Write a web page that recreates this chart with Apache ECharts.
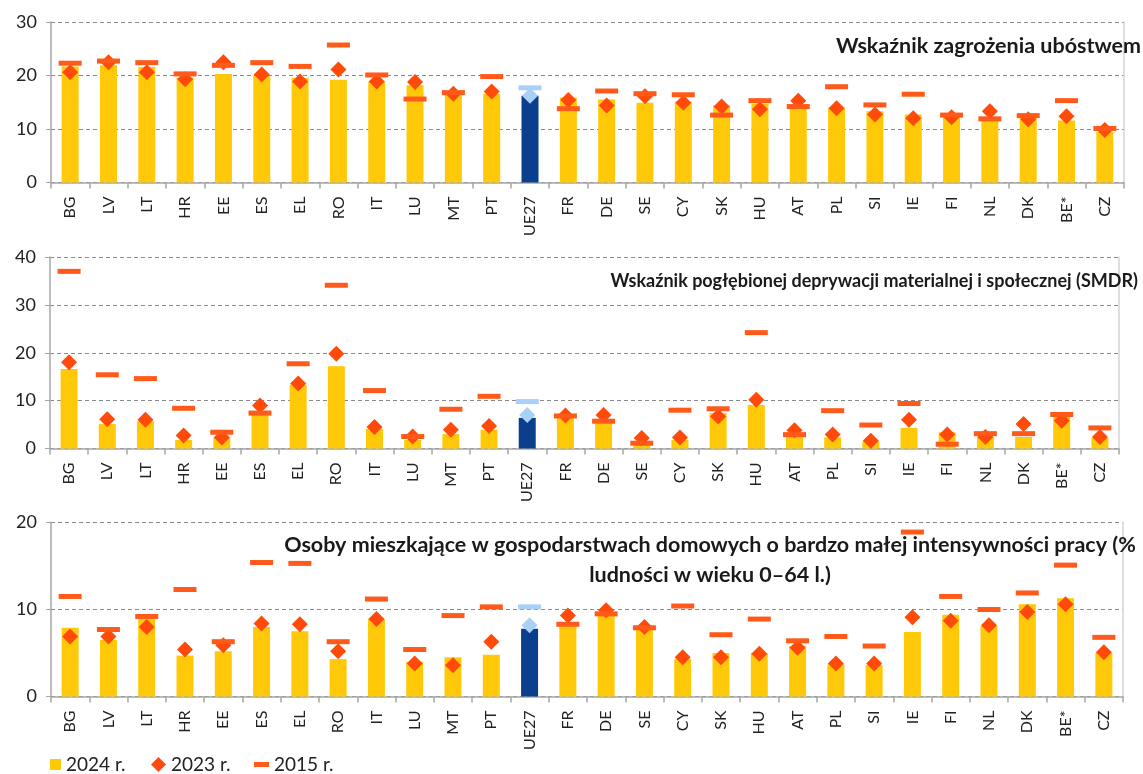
<!DOCTYPE html>
<html>
<head>
<meta charset="utf-8">
<script src="https://cdn.jsdelivr.net/npm/echarts@6/dist/echarts.min.js"></script>
<style>
  html, body { margin: 0; padding: 0; background: #fff; }
  #chart { width: 1143px; height: 774px; }
</style>
</head>
<body>
<div id="chart"></div>
<script>
// Countries in display order
const countries = ['BG','LV','LT','HR','EE','ES','EL','RO','IT','LU','MT','PT','UE27','FR','DE','SE','CY','SK','HU','AT','PL','SI','IE','FI','NL','DK','BE*','CZ'];

// Panel 1 – at-risk-of-poverty rate (%)
const arop2024 = [21.7,21.9,21.6,19.6,20.3,19.9,19.6,19.2,18.9,18.2,16.5,16.6,16.2,15.9,15.5,14.9,15.1,14.4,14.7,14.3,14.0,13.3,12.7,12.2,11.7,12.2,11.6,9.5];
const arop2023 = [20.6,22.5,20.6,19.3,22.5,20.2,18.9,21.1,18.9,18.8,16.6,17.0,16.2,15.4,14.4,16.1,14.9,14.2,13.7,15.3,13.9,12.7,12.0,12.2,13.3,11.8,12.4,9.8];
const arop2015 = [22.3,22.7,22.4,20.3,21.9,22.4,21.7,25.7,20.1,15.6,16.8,19.8,17.7,13.8,17.1,16.6,16.4,12.6,15.3,14.2,17.9,14.5,16.5,12.6,11.9,12.5,15.3,10.1];

// Panel 2 – severe material and social deprivation rate (%)
const smsd2024 = [16.6,5.1,5.7,1.8,2.3,7.6,13.3,17.2,4.1,1.8,3.0,3.9,6.4,6.6,5.6,1.3,1.8,7.4,9.1,3.2,2.3,1.5,4.3,3.4,2.4,2.4,7.0,2.2];
const smsd2023 = [18.0,6.1,6.0,2.7,2.3,9.0,13.6,19.8,4.5,2.5,3.9,4.7,7.0,6.9,7.0,2.2,2.3,6.7,10.2,3.8,2.9,1.6,6.0,2.9,2.4,5.1,5.8,2.4];
const smsd2015 = [37.0,15.4,14.6,8.4,3.4,7.4,17.7,34.1,12.1,2.5,8.2,10.9,9.8,6.8,5.7,1.1,8.0,8.3,24.2,2.9,7.9,4.9,9.4,0.9,3.1,3.1,7.1,4.3];

// Panel 3 – people living in households with very low work intensity (%)
const lwi2024 = [7.9,6.5,8.9,4.7,5.2,8.0,7.5,4.3,8.9,4.0,4.5,4.8,7.8,8.1,9.5,7.7,4.3,5.0,5.0,5.8,3.7,3.6,7.4,9.4,8.1,10.6,11.3,5.0];
const lwi2023 = [6.9,6.9,8.0,5.4,5.9,8.4,8.3,5.2,8.9,3.8,3.6,6.3,8.2,9.3,9.9,8.0,4.5,4.5,4.9,5.6,3.8,3.8,9.1,8.7,8.2,9.7,10.6,5.1];
const lwi2015 = [11.5,7.7,9.2,12.3,6.3,15.4,15.3,6.3,11.2,5.4,9.3,10.3,10.3,8.3,9.5,7.9,10.4,7.1,8.9,6.4,6.9,5.8,18.9,11.5,10.0,11.9,15.1,6.8];

// Axis ranges per panel
const yMax = [30, 40, 20];

// Panel titles
const titles = [
  'Wskaźnik zagrożenia ubóstwem',
  'Wskaźnik pogłębionej deprywacji materialnej i społecznej (SMDR)',
  'Osoby mieszkające w gospodarstwach domowych o bardzo małej intensywności pracy (%\nludności w wieku 0–64 l.)'
];

const seriesNames = ['2024 r.', '2023 r.', '2015 r.'];

const FONT = 'Lato, "Liberation Sans", sans-serif';
const YELLOW = '#FFC909';
const NAVY = '#0B3F8E';
const RED = '#FF4A0A';
const ORANGE = '#FF5A1A';
const LIGHTBLUE = '#A9D0F7';
const EU = 'UE27';

const panels = [
  { v24: arop2024, v23: arop2023, v15: arop2015 },
  { v24: smsd2024, v23: smsd2023, v15: smsd2015 },
  { v24: lwi2024, v23: lwi2023, v15: lwi2015 }
];

const grids = [
  { left: 51, right: 19, top: 22, height: 160.5 },
  { left: 50, right: 24, top: 257, height: 191.5 },
  { left: 51, right: 20, top: 522.5, height: 174 }
];

function colored(values, base, euColor) {
  return values.map((v, i) => countries[i] === EU
    ? { value: v, itemStyle: { color: euColor } }
    : { value: v, itemStyle: { color: base } });
}

const xAxis = [], yAxis = [], series = [];
panels.forEach((p, k) => {
  xAxis.push({
    type: 'category', gridIndex: k, data: countries,
    axisLine: { lineStyle: { color: '#a6a6a6', width: 1.5 } },
    axisTick: { show: true, length: 6, lineStyle: { color: '#a6a6a6', width: 1.5 } },
    axisLabel: { rotate: 90, interval: 0, margin: 14, fontSize: 16, color: '#222', fontFamily: FONT }
  });
  yAxis.push({
    type: 'value', gridIndex: k, min: 0, max: yMax[k], interval: 10,
    axisLine: { show: true, lineStyle: { color: '#a6a6a6', width: 1.5 } },
    axisTick: { show: true, length: 5, lineStyle: { color: '#a6a6a6' } },
    axisLabel: { margin: 14, fontSize: 18, color: '#222', fontFamily: FONT },
    splitLine: { show: true, lineStyle: { color: '#8a8a8a', type: [4, 3], width: 1.2 } }
  });
  // plot-area right border
  yAxis.push({
    type: 'value', gridIndex: k, position: 'right', min: 0, max: yMax[k], interval: 10,
    axisLine: { show: true, lineStyle: { color: '#d4d4d4', width: 1.5 } },
    axisTick: { show: false }, axisLabel: { show: false }, splitLine: { show: false }
  });
  series.push({
    name: seriesNames[0], type: 'bar', xAxisIndex: k, yAxisIndex: 2 * k,
    barWidth: 17, itemStyle: { color: YELLOW }, z: 2,
    data: colored(p.v24, YELLOW, NAVY)
  });
  series.push({
    name: seriesNames[1], type: 'scatter', xAxisIndex: k, yAxisIndex: 2 * k,
    symbol: 'diamond', symbolSize: [16, 16], itemStyle: { color: RED, opacity: 1 }, z: 3,
    data: colored(p.v23, RED, LIGHTBLUE)
  });
  series.push({
    name: seriesNames[2], type: 'scatter', xAxisIndex: k, yAxisIndex: 2 * k,
    symbol: 'rect', symbolSize: [23, 5], itemStyle: { color: ORANGE, opacity: 1 }, z: 4,
    data: colored(p.v15, ORANGE, LIGHTBLUE)
  });
});

function titleStyle(size, extra) {
  return Object.assign({ fontFamily: FONT, fontWeight: 'bold', fontSize: size, color: '#1a1a1a' }, extra || {});
}

const legendText = { fontFamily: FONT, fontSize: 19, color: '#222' };

const option = {
  animation: false,
  backgroundColor: '#fff',
  title: [
    { text: titles[0], right: 2, top: 35, padding: 0, textStyle: titleStyle(21.5) },
    { text: titles[1], right: 5, top: 272, padding: 0, textStyle: titleStyle(18) },
    { text: titles[2], left: 710, textAlign: 'center', top: 530, padding: 0,
      textStyle: titleStyle(21.5, { lineHeight: 30, align: 'center' }) }
  ],
  legend: [
    { data: [{ name: seriesNames[0], icon: 'rect' }], left: 50, top: 755, itemWidth: 11, itemHeight: 11, padding: 0, textStyle: legendText, selectedMode: false },
    { data: [{ name: seriesNames[1], icon: 'diamond' }], left: 151, top: 755, itemWidth: 15, itemHeight: 15, padding: 0, textStyle: legendText, selectedMode: false },
    { data: [{ name: seriesNames[2], icon: 'rect' }], left: 254, top: 755, itemWidth: 15, itemHeight: 5, padding: 0, textStyle: legendText, selectedMode: false }
  ],
  grid: grids,
  xAxis: xAxis,
  yAxis: yAxis,
  series: series
};

const chart = echarts.init(document.getElementById('chart'), null, { renderer: 'canvas' });
chart.setOption(option);
</script>
</body>
</html>
